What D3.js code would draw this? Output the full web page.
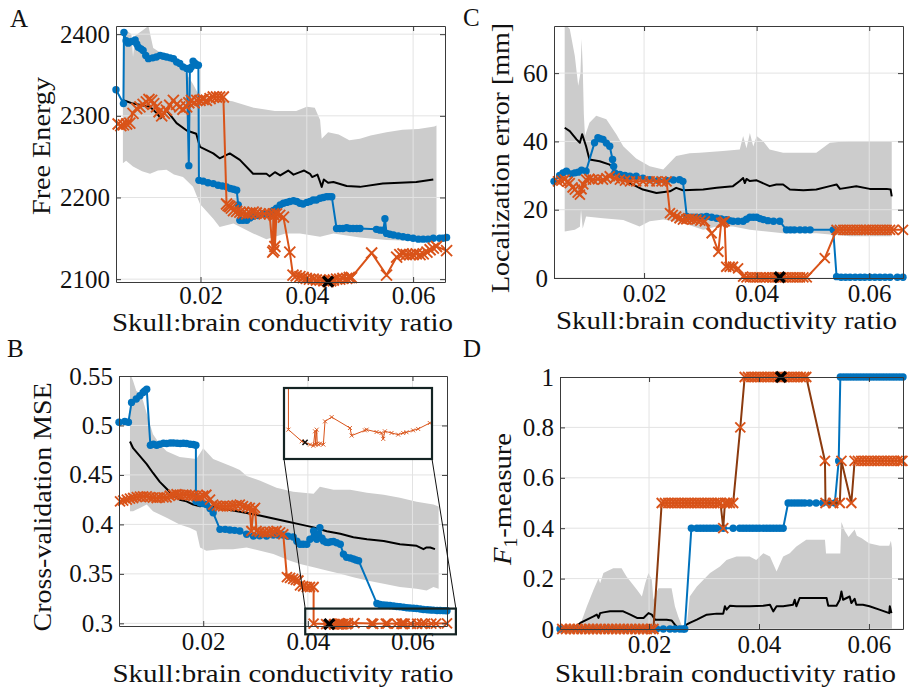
<!DOCTYPE html>
<html><head><meta charset="utf-8">
<script src="https://cdn.jsdelivr.net/npm/d3@7"></script>
<style>body{margin:0;background:#fff;} svg text{font-family:"Liberation Serif","Times New Roman",serif;}</style>
</head><body>
<svg id="c" width="909" height="688"></svg>
<script>
// ---------- shared ----------
const xTicks = [0.02, 0.04, 0.06];
const xTickLabels = ["0.02", "0.04", "0.06"];
const xLabel = "Skull:brain conductivity ratio";

// ---------- Panel A : Free Energy ----------
const aYTicks = [2100, 2200, 2300, 2400];
const aYTickLabels = ["2100", "2200", "2300", "2400"];
const aBandHi = [[0.0054,2402],[0.0062,2404],[0.0070,2400],[0.0073,2372],[0.0077,2398],[0.0092,2405],[0.0102,2410],[0.0107,2395],[0.0111,2383],[0.0130,2375],[0.0150,2366],[0.0170,2355],[0.0185,2340],[0.0199,2323],[0.0211,2322],[0.0224,2318],[0.0240,2320],[0.0260,2318],[0.0300,2310],[0.0340,2306],[0.0380,2306],[0.0400,2311],[0.0415,2310],[0.0425,2295],[0.0428,2272],[0.0440,2280],[0.0460,2277],[0.0480,2270],[0.0500,2272],[0.0520,2276],[0.0550,2280],[0.0580,2283],[0.0610,2284],[0.0640,2287],[0.0644,2288]];
const aBandLo = [[0.0054,2242],[0.0060,2245],[0.0073,2238],[0.0090,2232],[0.0105,2229],[0.0120,2233],[0.0136,2234],[0.0150,2228],[0.0167,2225],[0.0186,2213],[0.0199,2192],[0.0224,2174],[0.0236,2164],[0.0262,2168],[0.0299,2156],[0.0324,2149],[0.0360,2156],[0.0387,2156],[0.0425,2152],[0.0450,2156],[0.0500,2151],[0.0550,2148],[0.0600,2147],[0.0644,2148]];
const aMean = [[0.0055,2319],[0.0073,2315],[0.0090,2313],[0.0105,2311],[0.0118,2303],[0.0125,2297],[0.0136,2307],[0.0155,2291],[0.0174,2282],[0.0192,2278],[0.0199,2262],[0.0224,2254],[0.0236,2248],[0.0255,2254],[0.0274,2246],[0.0299,2229],[0.0324,2229],[0.0330,2226],[0.0340,2231],[0.0350,2227],[0.0365,2233],[0.0375,2228],[0.0387,2231],[0.0395,2233],[0.0406,2229],[0.0410,2225],[0.0420,2228],[0.0425,2219],[0.0428,2213],[0.0432,2222],[0.0440,2218],[0.0450,2219],[0.0475,2214],[0.0500,2213],[0.0543,2217],[0.0575,2218],[0.0606,2219],[0.0638,2222]];
const aBlue = [[0.0041,2332],[0.0055,2315],[0.0056,2402],[0.0060,2392],[0.0064,2389],[0.0070,2391],[0.0077,2393],[0.0080,2388],[0.0083,2384],[0.0088,2382],[0.0092,2380],[0.0097,2374],[0.0102,2370],[0.0110,2371],[0.0117,2372],[0.0124,2374],[0.0130,2373],[0.0136,2372],[0.0143,2371],[0.0149,2370],[0.0155,2366],[0.0161,2364],[0.0167,2360],[0.0174,2358],[0.0178,2239],[0.0180,2357],[0.0183,2360],[0.0186,2367],[0.0190,2364],[0.0193,2362],[0.0196,2362],[0.0197,2221],[0.0205,2220],[0.0214,2218],[0.0224,2217],[0.0233,2215],[0.0241,2214],[0.0249,2213],[0.0256,2211],[0.0262,2210],[0.0268,2209],[0.0271,2191],[0.0274,2172],[0.0280,2172],[0.0287,2172],[0.0293,2175],[0.0299,2177],[0.0308,2178],[0.0318,2180],[0.0330,2180],[0.0337,2184],[0.0343,2187],[0.0350,2191],[0.0356,2193],[0.0362,2194],[0.0368,2195],[0.0375,2196],[0.0381,2195],[0.0387,2193],[0.0393,2192],[0.0400,2194],[0.0406,2195],[0.0412,2197],[0.0418,2197],[0.0425,2199],[0.0431,2200],[0.0437,2201],[0.0442,2201],[0.0447,2201],[0.0456,2162],[0.0462,2162],[0.0468,2162],[0.0475,2163],[0.0481,2162],[0.0487,2162],[0.0494,2162],[0.0500,2162],[0.0531,2161],[0.0538,2160],[0.0544,2160],[0.0547,2174],[0.0550,2156],[0.0556,2155],[0.0563,2154],[0.0572,2153],[0.0581,2152],[0.0590,2151],[0.0600,2150],[0.0610,2149],[0.0619,2149],[0.0628,2149],[0.0638,2150],[0.0650,2150],[0.0656,2150],[0.0663,2151]];
const aRed = [[0.0045,2290],[0.0050,2288],[0.0055,2289],[0.0061,2290],[0.0067,2291],[0.0073,2303],[0.0080,2309],[0.0086,2311],[0.0092,2314],[0.0098,2317],[0.0103,2320],[0.0108,2319],[0.0112,2315],[0.0117,2311],[0.0122,2305],[0.0127,2300],[0.0132,2303],[0.0136,2307],[0.0142,2313],[0.0149,2319],[0.0155,2314],[0.0161,2311],[0.0167,2308],[0.0174,2311],[0.0178,2316],[0.0183,2319],[0.0188,2316],[0.0193,2319],[0.0199,2319],[0.0205,2320],[0.0211,2319],[0.0218,2321],[0.0224,2323],[0.0230,2323],[0.0236,2323],[0.0243,2323],[0.0249,2192],[0.0252,2190],[0.0255,2189],[0.0258,2187],[0.0262,2184],[0.0268,2183],[0.0274,2182],[0.0280,2181],[0.0287,2180],[0.0293,2181],[0.0299,2182],[0.0305,2181],[0.0312,2180],[0.0320,2180],[0.0330,2180],[0.0336,2133],[0.0337,2180],[0.0338,2135],[0.0339,2178],[0.0340,2140],[0.0343,2180],[0.0349,2178],[0.0356,2176],[0.0368,2133],[0.0374,2105],[0.0380,2104],[0.0387,2103],[0.0393,2102],[0.0399,2101],[0.0405,2100],[0.0412,2100],[0.0418,2099],[0.0425,2099],[0.0432,2098],[0.0440,2097],[0.0445,2098],[0.0450,2099],[0.0456,2100],[0.0462,2100],[0.0468,2101],[0.0475,2101],[0.0480,2102],[0.0484,2102],[0.0522,2132],[0.0550,2105],[0.0569,2127],[0.0575,2130],[0.0581,2131],[0.0587,2130],[0.0594,2130],[0.0600,2130],[0.0606,2131],[0.0613,2130],[0.0619,2131],[0.0626,2133],[0.0632,2136],[0.0638,2138],[0.0644,2140],[0.0663,2135]];
const aBest = [0.0440, 2097];

// ---------- Panel C : Localization error ----------
const cYTicks = [0, 20, 40, 60];
const cYTickLabels = ["0", "20", "40", "60"];
const cBandHi = [[0.0059,74.5],[0.0068,72.9],[0.0077,65.0],[0.0083,56.3],[0.0087,60.0],[0.0089,70.0],[0.0091,62.0],[0.0093,48.0],[0.0095,41.6],[0.0103,45.5],[0.0115,47.5],[0.0133,46.5],[0.0151,42.0],[0.0163,38.6],[0.0186,35.0],[0.0210,32.7],[0.0234,31.8],[0.0257,35.7],[0.0281,36.5],[0.0299,36.7],[0.0340,37.2],[0.0370,37.6],[0.0376,41.6],[0.0382,38.0],[0.0388,42.5],[0.0394,38.5],[0.0400,41.6],[0.0412,40.0],[0.0423,37.6],[0.0447,36.7],[0.0506,36.7],[0.0530,39.6],[0.0566,40.1],[0.0640,40.1]];
const cBandLo = [[0.0059,13.6],[0.0077,14.1],[0.0086,15.0],[0.0088,20.0],[0.0091,14.5],[0.0097,18.0],[0.0127,17.5],[0.0163,17.0],[0.0192,15.1],[0.0210,16.6],[0.0234,17.1],[0.0269,16.1],[0.0305,14.1],[0.0329,15.1],[0.0358,15.1],[0.0388,14.1],[0.0447,13.1],[0.0506,13.1],[0.0566,12.2],[0.0640,12.2]];
const cMean = [[0.0059,44.0],[0.0068,43.0],[0.0080,40.6],[0.0086,39.6],[0.0090,42.1],[0.0097,38.6],[0.0103,34.7],[0.0121,34.2],[0.0139,33.2],[0.0151,30.8],[0.0175,27.8],[0.0198,25.9],[0.0222,24.9],[0.0246,25.4],[0.0257,26.4],[0.0269,25.7],[0.0305,25.9],[0.0329,26.4],[0.0358,26.9],[0.0370,28.4],[0.0376,29.3],[0.0379,27.8],[0.0382,29.0],[0.0388,28.4],[0.0400,28.6],[0.0423,26.9],[0.0435,27.4],[0.0447,27.4],[0.0459,25.9],[0.0483,25.7],[0.0506,25.9],[0.0530,26.9],[0.0542,27.4],[0.0548,26.1],[0.0577,26.9],[0.0601,26.1],[0.0631,26.1],[0.0638,25.9],[0.0640,23.9]];
const cBlue = [[0.0040,28.3],[0.0050,30.0],[0.0056,30.8],[0.0062,31.3],[0.0070,30.5],[0.0077,30.8],[0.0083,31.0],[0.0089,31.6],[0.0097,31.3],[0.0112,39.6],[0.0118,41.1],[0.0122,40.8],[0.0127,40.6],[0.0133,39.5],[0.0139,38.6],[0.0144,34.7],[0.0146,32.7],[0.0148,30.8],[0.0157,30.3],[0.0166,30.0],[0.0175,29.8],[0.0186,29.8],[0.0198,29.2],[0.0210,28.8],[0.0225,28.6],[0.0240,28.6],[0.0252,28.7],[0.0263,28.8],[0.0269,28.3],[0.0276,18.0],[0.0285,17.8],[0.0293,17.8],[0.0302,17.9],[0.0311,18.0],[0.0320,17.8],[0.0329,17.5],[0.0337,17.3],[0.0346,17.1],[0.0352,16.8],[0.0358,16.6],[0.0367,16.6],[0.0376,16.6],[0.0382,17.2],[0.0388,17.8],[0.0394,17.8],[0.0400,17.8],[0.0406,17.4],[0.0412,17.1],[0.0420,16.8],[0.0430,16.6],[0.0441,16.6],[0.0453,14.1],[0.0460,14.1],[0.0467,14.1],[0.0477,14.1],[0.0486,14.1],[0.0495,14.1],[0.0536,14.1],[0.0542,0.4],[0.0550,0.2],[0.0558,0.2],[0.0566,0.2],[0.0575,0.2],[0.0584,0.2],[0.0592,0.2],[0.0601,0.2],[0.0610,0.2],[0.0619,0.2],[0.0628,0.2],[0.0637,0.2],[0.0650,0.2],[0.0660,0.2]];
const cRed = [[0.0047,28.3],[0.0053,28.5],[0.0059,28.8],[0.0064,28.2],[0.0068,27.8],[0.0073,26.5],[0.0077,25.9],[0.0082,25.0],[0.0086,24.4],[0.0089,26.0],[0.0092,27.4],[0.0097,28.8],[0.0103,29.0],[0.0109,28.8],[0.0118,29.0],[0.0127,28.8],[0.0133,29.2],[0.0139,29.8],[0.0148,29.2],[0.0157,28.8],[0.0166,28.5],[0.0175,28.3],[0.0186,28.3],[0.0198,28.3],[0.0210,28.3],[0.0222,28.3],[0.0231,28.3],[0.0240,28.3],[0.0246,19.0],[0.0251,18.5],[0.0257,18.0],[0.0263,17.5],[0.0269,17.1],[0.0275,17.2],[0.0281,17.3],[0.0287,17.2],[0.0293,17.1],[0.0300,16.8],[0.0308,16.6],[0.0320,13.1],[0.0332,7.7],[0.0337,16.1],[0.0340,16.3],[0.0343,16.6],[0.0346,3.3],[0.0352,3.3],[0.0358,3.3],[0.0367,2.8],[0.0376,0.4],[0.0382,0.2],[0.0388,0.2],[0.0394,0.2],[0.0400,0.2],[0.0406,0.2],[0.0412,0.2],[0.0417,0.2],[0.0423,0.2],[0.0429,0.2],[0.0435,0.2],[0.0441,0.2],[0.0447,0.2],[0.0453,0.2],[0.0459,0.2],[0.0465,0.2],[0.0471,0.2],[0.0477,0.2],[0.0483,0.2],[0.0489,0.2],[0.0521,5.8],[0.0542,14.1],[0.0548,14.1],[0.0554,14.1],[0.0560,14.1],[0.0566,14.1],[0.0572,14.1],[0.0578,14.1],[0.0584,14.1],[0.0590,14.1],[0.0595,14.1],[0.0601,14.1],[0.0607,14.1],[0.0613,14.1],[0.0619,14.1],[0.0625,14.1],[0.0631,14.1],[0.0637,14.1],[0.0643,14.1],[0.0660,14.1]];
const cBest = [0.0441, 0.2];

// ---------- Panel B : Cross-validation MSE ----------
const bYTicks = [0.3, 0.35, 0.4, 0.45, 0.5, 0.55];
const bYTickLabels = ["0.3", "0.35", "0.4", "0.45", "0.5", "0.55"];
const bBandHi = [[0.0060,0.553],[0.0066,0.545],[0.0072,0.535],[0.0079,0.532],[0.0085,0.525],[0.0092,0.512],[0.0104,0.491],[0.0117,0.481],[0.0130,0.474],[0.0155,0.468],[0.0187,0.466],[0.0200,0.477],[0.0219,0.466],[0.0238,0.462],[0.0257,0.458],[0.0270,0.455],[0.0283,0.449],[0.0309,0.444],[0.0340,0.437],[0.0372,0.433],[0.0411,0.431],[0.0423,0.438],[0.0449,0.435],[0.0481,0.435],[0.0513,0.432],[0.0545,0.430],[0.0576,0.427],[0.0608,0.423],[0.0640,0.420],[0.0650,0.418]];
const bBandLo = [[0.0060,0.4133],[0.0066,0.4133],[0.0079,0.4167],[0.0092,0.4200],[0.0104,0.4133],[0.0130,0.4067],[0.0155,0.4000],[0.0174,0.3967],[0.0187,0.3933],[0.0194,0.3767],[0.0206,0.3733],[0.0232,0.3750],[0.0257,0.3750],[0.0283,0.3767],[0.0309,0.3733],[0.0334,0.3700],[0.0366,0.3633],[0.0385,0.3600],[0.0411,0.3567],[0.0436,0.3533],[0.0462,0.3500],[0.0487,0.3467],[0.0513,0.3433],[0.0545,0.3400],[0.0576,0.3367],[0.0608,0.3350],[0.0627,0.3333],[0.0640,0.3367],[0.0650,0.3350]];
const bMean = [[0.0060,0.4838],[0.0066,0.4770],[0.0079,0.4690],[0.0092,0.4610],[0.0104,0.4520],[0.0117,0.4430],[0.0130,0.4360],[0.0143,0.4290],[0.0155,0.4250],[0.0168,0.4233],[0.0181,0.4200],[0.0194,0.4183],[0.0206,0.4200],[0.0232,0.4160],[0.0257,0.4140],[0.0283,0.4115],[0.0308,0.4090],[0.0334,0.4060],[0.0360,0.4030],[0.0385,0.4000],[0.0411,0.3970],[0.0436,0.3930],[0.0462,0.3905],[0.0487,0.3870],[0.0513,0.3850],[0.0545,0.3833],[0.0576,0.3800],[0.0608,0.3783],[0.0621,0.3750],[0.0627,0.3767],[0.0634,0.3767],[0.0643,0.3750]];
const bBlue = [[0.0039,0.5033],[0.0050,0.5040],[0.0057,0.5033],[0.0063,0.5233],[0.0072,0.5267],[0.0079,0.5300],[0.0085,0.5333],[0.0088,0.5350],[0.0092,0.5367],[0.0099,0.4800],[0.0105,0.4810],[0.0111,0.4800],[0.0117,0.4810],[0.0124,0.4820],[0.0130,0.4817],[0.0137,0.4823],[0.0143,0.4823],[0.0150,0.4820],[0.0156,0.4817],[0.0162,0.4820],[0.0168,0.4817],[0.0175,0.4810],[0.0181,0.4807],[0.0186,0.4800],[0.0186,0.4233],[0.0194,0.4217],[0.0200,0.4210],[0.0206,0.4200],[0.0213,0.4160],[0.0219,0.4117],[0.0232,0.3950],[0.0242,0.3950],[0.0251,0.3943],[0.0260,0.3940],[0.0270,0.3933],[0.0283,0.3900],[0.0296,0.3883],[0.0308,0.3885],[0.0321,0.3883],[0.0334,0.3893],[0.0343,0.3893],[0.0353,0.3893],[0.0362,0.3880],[0.0372,0.3873],[0.0379,0.3830],[0.0385,0.3800],[0.0391,0.3800],[0.0398,0.3800],[0.0404,0.3850],[0.0411,0.3933],[0.0414,0.3870],[0.0417,0.3850],[0.0420,0.3900],[0.0423,0.3967],[0.0427,0.3860],[0.0430,0.3833],[0.0435,0.3820],[0.0439,0.3817],[0.0444,0.3825],[0.0449,0.3827],[0.0455,0.3815],[0.0462,0.3800],[0.0468,0.3700],[0.0474,0.3667],[0.0481,0.3660],[0.0487,0.3650],[0.0492,0.3640],[0.0497,0.3633],[0.0532,0.3200],[0.0538,0.3190],[0.0545,0.3185],[0.0551,0.3183],[0.0557,0.3180],[0.0564,0.3175],[0.0570,0.3170],[0.0576,0.3167],[0.0583,0.3162],[0.0589,0.3158],[0.0595,0.3155],[0.0602,0.3152],[0.0608,0.3150],[0.0615,0.3145],[0.0621,0.3140],[0.0628,0.3138],[0.0634,0.3135],[0.0640,0.3133],[0.0647,0.3130],[0.0653,0.3130],[0.0660,0.3128],[0.0666,0.3127]];
const bRed = [[0.0041,0.4233],[0.0047,0.4240],[0.0054,0.4250],[0.0060,0.4260],[0.0066,0.4267],[0.0073,0.4275],[0.0079,0.4280],[0.0085,0.4283],[0.0092,0.4283],[0.0098,0.4275],[0.0104,0.4270],[0.0111,0.4267],[0.0117,0.4270],[0.0124,0.4273],[0.0130,0.4273],[0.0136,0.4290],[0.0143,0.4300],[0.0149,0.4305],[0.0155,0.4300],[0.0162,0.4300],[0.0168,0.4300],[0.0175,0.4295],[0.0181,0.4290],[0.0187,0.4285],[0.0194,0.4283],[0.0200,0.4290],[0.0206,0.4300],[0.0213,0.4250],[0.0219,0.4200],[0.0226,0.4190],[0.0232,0.4185],[0.0238,0.4183],[0.0245,0.4183],[0.0251,0.4185],[0.0257,0.4190],[0.0264,0.4195],[0.0270,0.4200],[0.0276,0.4185],[0.0283,0.4175],[0.0289,0.4167],[0.0292,0.3933],[0.0296,0.4150],[0.0299,0.4167],[0.0302,0.3933],[0.0308,0.3925],[0.0315,0.3920],[0.0321,0.3917],[0.0327,0.3925],[0.0334,0.3930],[0.0340,0.3933],[0.0347,0.3920],[0.0353,0.3900],[0.0360,0.3467],[0.0366,0.3460],[0.0372,0.3450],[0.0377,0.3440],[0.0382,0.3433],[0.0385,0.3383],[0.0391,0.3375],[0.0398,0.3367],[0.0404,0.3367],[0.0411,0.3367],
  [0.0411,0.29974],[0.0435,0.29925],[0.0441,0.29920],[0.0450,0.29911],[0.0456,0.29906],[0.0459,0.29967],[0.0460,0.29911],[0.0462,0.29974],[0.0463,0.29915],[0.0465,0.29911],[0.0468,0.29915],[0.0474,0.29911],[0.0477,0.30009],[0.0489,0.30027],[0.0522,0.29981],[0.0525,0.29949],[0.0549,0.29971],[0.0552,0.29974],[0.0570,0.29964],[0.0579,0.29960],[0.0582,0.29935],[0.0585,0.29967],[0.0597,0.29960],[0.0609,0.29953],[0.0618,0.29960],[0.0624,0.29963],[0.0636,0.29971],[0.0645,0.29977],[0.0666,0.30002]];
const bBest = [0.0441, 0.29920];
const bInsetXDomain = [0.0403, 0.0670];
const bInsetYDomain = [0.2985, 0.3015];
const bZoomBoxX = [0.0395, 0.0683];
const bZoomBoxY = [0.2889, 0.3149];

// ---------- Panel D : F1-measure ----------
const dYTicks = [0, 0.2, 0.4, 0.6, 0.8, 1];
const dYTickLabels = ["0", "0.2", "0.4", "0.6", "0.8", "1"];
const dBandHi = [[0.0072,0],[0.0087,0.09],[0.0099,0.156],[0.0108,0.2],[0.0111,0.182],[0.0117,0.222],[0.0129,0.235],[0.0135,0.241],[0.0150,0.241],[0.0159,0.208],[0.0178,0.156],[0.0187,0.129],[0.0193,0.182],[0.0199,0.222],[0.0205,0.195],[0.0208,0.116],[0.0217,0.162],[0.0241,0.162],[0.0247,0.09],[0.0253,0.05],[0.0262,0],[0.0268,0],[0.0274,0.129],[0.0287,0.169],[0.0299,0.195],[0.0311,0.222],[0.0329,0.248],[0.0341,0.274],[0.0359,0.288],[0.0383,0.288],[0.0395,0.274],[0.0408,0.301],[0.0420,0.288],[0.0432,0.228],[0.0444,0.288],[0.0456,0.301],[0.0468,0.327],[0.0486,0.354],[0.0498,0.354],[0.0520,0.354],[0.0522,0.30],[0.0548,0.30],[0.0550,0.425],[0.0556,0.39],[0.0563,0.365],[0.0574,0.395],[0.0578,0.37],[0.0587,0.36],[0.0600,0.34],[0.0620,0.33],[0.0637,0.33],[0.0640,0.35],[0.0642,0.32],[0.0642,0]];
const dBandLo = [[0.0072,0],[0.0642,0]];
const dMean = [[0.0042,0.004],[0.0063,0.004],[0.0075,0.024],[0.0087,0.037],[0.0099,0.050],[0.0105,0.057],[0.0108,0.044],[0.0111,0.063],[0.0117,0.066],[0.0129,0.070],[0.0153,0.070],[0.0166,0.057],[0.0178,0.044],[0.0190,0.044],[0.0199,0.063],[0.0205,0.057],[0.0211,0.037],[0.0232,0.037],[0.0241,0.034],[0.0247,0.017],[0.0253,0.004],[0.0262,0.004],[0.0268,0.017],[0.0274,0.024],[0.0287,0.037],[0.0305,0.057],[0.0323,0.061],[0.0335,0.061],[0.0338,0.090],[0.0341,0.077],[0.0347,0.092],[0.0359,0.090],[0.0383,0.090],[0.0408,0.092],[0.0420,0.096],[0.0426,0.070],[0.0432,0.090],[0.0444,0.090],[0.0462,0.096],[0.0465,0.116],[0.0468,0.090],[0.0474,0.123],[0.0504,0.123],[0.0523,0.123],[0.0526,0.092],[0.0541,0.092],[0.0547,0.116],[0.0550,0.149],[0.0553,0.116],[0.0565,0.129],[0.0568,0.103],[0.0574,0.120],[0.0577,0.096],[0.0589,0.096],[0.0601,0.090],[0.0619,0.077],[0.0637,0.063],[0.0638,0.090],[0.0641,0.063]];
const dBlue = [[0.0038,0],[0.0050,0],[0.0062,0],[0.0074,0],[0.0086,0],[0.0098,0],[0.0110,0],[0.0122,0],[0.0134,0],[0.0146,0],[0.0158,0],[0.0170,0],[0.0182,0],[0.0194,0],[0.0205,0],[0.0214,0],[0.0226,0],[0.0238,0],[0.0247,0],[0.0256,0],[0.0262,0],[0.0265,0],[0.0277,0.4],[0.0287,0.4],[0.0293,0.4],[0.0299,0.4],[0.0305,0.4],[0.0311,0.4],[0.0317,0.4],[0.0323,0.4],[0.0335,0.4],[0.0353,0.4],[0.0365,0.4],[0.0371,0.4],[0.0377,0.4],[0.0383,0.4],[0.0389,0.4],[0.0395,0.4],[0.0401,0.4],[0.0408,0.4],[0.0414,0.4],[0.0420,0.4],[0.0426,0.4],[0.0432,0.4],[0.0438,0.4],[0.0444,0.4],[0.0453,0.5],[0.0459,0.5],[0.0465,0.5],[0.0471,0.5],[0.0477,0.5],[0.0483,0.5],[0.0492,0.5],[0.0504,0.5],[0.0516,0.5],[0.0528,0.5],[0.0538,0.5],[0.0545,0.667],[0.0548,1],[0.0554,1],[0.0560,1],[0.0566,1],[0.0572,1],[0.0578,1],[0.0584,1],[0.0590,1],[0.0596,1],[0.0602,1],[0.0608,1],[0.0614,1],[0.0620,1],[0.0626,1],[0.0632,1],[0.0638,1],[0.0644,1],[0.0650,1],[0.0656,1],[0.0662,1]];
const dRed = [[0.0042,0],[0.0049,0],[0.0056,0],[0.0063,0],[0.0070,0],[0.0077,0],[0.0084,0],[0.0091,0],[0.0098,0],[0.0105,0],[0.0112,0],[0.0119,0],[0.0126,0],[0.0133,0],[0.0140,0],[0.0147,0],[0.0154,0],[0.0161,0],[0.0168,0],[0.0175,0],[0.0182,0],[0.0189,0],[0.0196,0],[0.0203,0],[0.0208,0],[0.0223,0.5],[0.0229,0.5],[0.0235,0.5],[0.0241,0.5],[0.0247,0.5],[0.0253,0.5],[0.0259,0.5],[0.0265,0.5],[0.0271,0.5],[0.0277,0.5],[0.0283,0.5],[0.0289,0.5],[0.0295,0.5],[0.0301,0.5],[0.0307,0.5],[0.0313,0.5],[0.0319,0.5],[0.0325,0.5],[0.0330,0.5],[0.0335,0.4],[0.0338,0.5],[0.0342,0.5],[0.0347,0.5],[0.0353,0.5],[0.0366,0.8],[0.0374,1],[0.0380,1],[0.0386,1],[0.0392,1],[0.0398,1],[0.0404,1],[0.0410,1],[0.0416,1],[0.0422,1],[0.0428,1],[0.0434,1],[0.0440,1],[0.0446,1],[0.0452,1],[0.0458,1],[0.0464,1],[0.0470,1],[0.0476,1],[0.0482,1],[0.0486,1],[0.0520,0.667],[0.0521,0.5],[0.0535,0.5],[0.0547,0.5],[0.0550,0.667],[0.0568,0.5],[0.0574,0.667],[0.0580,0.667],[0.0586,0.667],[0.0592,0.667],[0.0598,0.667],[0.0604,0.667],[0.0610,0.667],[0.0616,0.667],[0.0622,0.667],[0.0628,0.667],[0.0634,0.667],[0.0640,0.667],[0.0646,0.667],[0.0652,0.667],[0.0658,0.667],[0.0661,0.667]];
const dBest = [0.0440, 1];

// ---------- drawing ----------
const BLUE = "#0072BD", RED = "#D95319", BAND = "#cccccc", GRID = "#e3e3e3", AXIS = "#3a3a3a";
const FS = 26, TFS = 25;
const svg = d3.select("#c");
const defs = svg.append("defs");
const cross = s => `M${-s},${-s}L${s},${s}M${-s},${s}L${s},${-s}`;

function drawPanel(p) {
  const x = d3.scaleLinear().domain(p.xd).range([p.l, p.r]);
  const y = d3.scaleLinear().domain(p.yd).range([p.b, p.t]);
  const g = svg.append("g");
  const cid = "clip" + p.key;
  defs.append("clipPath").attr("id", cid).append("rect")
    .attr("x", p.l).attr("y", p.t).attr("width", p.r - p.l).attr("height", p.b - p.t);
  const clipped = () => g.append("g").attr("clip-path", `url(#${cid})`);
  const line = d3.line().x(d => x(d[0])).y(d => y(d[1]));

  const bandPts = p.bandHi.map(d => [x(d[0]), y(d[1])])
    .concat(p.bandLo.slice().reverse().map(d => [x(d[0]), y(d[1])]));
  const gb = clipped();
  gb.append("path").attr("d", d3.line()(bandPts) + "Z").attr("fill", BAND);
  gb.selectAll(null).data(xTicks).join("line")
    .attr("x1", d => x(d)).attr("x2", d => x(d)).attr("y1", p.t).attr("y2", p.b)
    .attr("stroke", GRID).attr("stroke-width", 1);
  gb.selectAll(null).data(p.yTicks).join("line")
    .attr("y1", d => y(d)).attr("y2", d => y(d)).attr("x1", p.l).attr("x2", p.r)
    .attr("stroke", GRID).attr("stroke-width", 1);
  clipped().append("path").attr("d", line(p.mean)).attr("fill", "none")
    .attr("stroke", "#000").attr("stroke-width", 2).attr("stroke-linejoin", "round");
  clipped().append("path").attr("d", line(p.blue)).attr("fill", "none")
    .attr("stroke", BLUE).attr("stroke-width", 2);
  g.append("g").selectAll(null).data(p.blue).join("circle")
    .attr("cx", d => x(d[0])).attr("cy", d => y(d[1])).attr("r", 3.7).attr("fill", BLUE);
  clipped().append("path").attr("d", line(p.red)).attr("fill", "none")
    .attr("stroke", p.redLine).attr("stroke-width", 2);
  g.append("g").selectAll(null).data(p.red).join("path")
    .attr("transform", d => `translate(${x(d[0])},${y(d[1])})`)
    .attr("d", cross(p.xs)).attr("stroke", RED).attr("stroke-width", 1.9).attr("fill", "none");
  g.append("path").attr("transform", `translate(${x(p.best[0])},${y(p.best[1])})`)
    .attr("d", cross(5)).attr("stroke", "#000").attr("stroke-width", 3.4).attr("fill", "none");

  const styleAxis = a => {
    a.attr("font-family", null).attr("font-size", TFS);
    a.select(".domain").attr("stroke", AXIS).attr("stroke-width", 1);
    a.selectAll(".tick line").attr("stroke", AXIS);
    a.selectAll(".tick text").attr("fill", "#111");
  };
  g.append("g").attr("transform", `translate(0,${p.b})`)
    .call(d3.axisBottom(x).tickValues(xTicks).tickFormat((d, i) => xTickLabels[i]).tickSize(-5).tickSizeOuter(0).tickPadding(p.xtp))
    .call(styleAxis);
  g.append("g").attr("transform", `translate(0,${p.t})`)
    .call(d3.axisTop(x).tickValues(xTicks).tickFormat("").tickSize(-5).tickSizeOuter(0))
    .call(styleAxis);
  g.append("g").attr("transform", `translate(${p.l},0)`)
    .call(d3.axisLeft(y).tickValues(p.yTicks).tickFormat((d, i) => p.yTickLabels[i]).tickSize(-5).tickSizeOuter(0).tickPadding(6))
    .call(styleAxis);
  g.append("g").attr("transform", `translate(${p.r},0)`)
    .call(d3.axisRight(y).tickValues(p.yTicks).tickFormat("").tickSize(-5).tickSizeOuter(0))
    .call(styleAxis);

  const yl = g.append("text").attr("transform", `translate(${p.ylx},${p.yly}) rotate(-90)`)
    .attr("text-anchor", "middle").attr("font-size", FS).attr("fill", "#111")
    .attr("textLength", p.ylLen).attr("lengthAdjust", "spacingAndGlyphs");
  p.ylabel(yl);
  g.append("text").attr("x", (p.l + p.r) / 2 + p.xlOff).attr("y", p.xly).attr("text-anchor", "middle")
    .attr("font-size", FS).attr("fill", "#111").attr("textLength", 341).attr("lengthAdjust", "spacingAndGlyphs").text(xLabel);
  g.append("text").attr("x", p.lx).attr("y", p.ly).attr("font-size", 25).attr("fill", "#111").text(p.letter);
  return { x, y, g };
}

drawPanel({ key: "A", l: 116, r: 445, t: 26, b: 282, xd: [0.0041, 0.0660], yd: [2096.5, 2410],
  yTicks: aYTicks, yTickLabels: aYTickLabels, bandHi: aBandHi, bandLo: aBandLo, mean: aMean,
  blue: aBlue, red: aRed, best: aBest, redLine: RED, xs: 5.5, xtp: 4,
  ylx: 49.5, yly: 146, ylLen: 138, ylabel: t => t.text("Free Energy"), xlOff: 2, xly: 331, lx: 10, ly: 27, letter: "A" });

drawPanel({ key: "C", l: 554, r: 903, t: 26, b: 278, xd: [0.0040, 0.0660], yd: [0, 73.8],
  yTicks: cYTicks, yTickLabels: cYTickLabels, bandHi: cBandHi, bandLo: cBandLo, mean: cMean,
  blue: cBlue, red: cRed, best: cBest, redLine: RED, xs: 5, xtp: 6,
  ylx: 509, yly: 158, ylLen: 270, ylabel: t => t.text("Localization error [mm]"), xlOff: -2, xly: 329, lx: 463, ly: 26, letter: "C" });

const B = drawPanel({ key: "B", l: 119, r: 447, t: 376, b: 626, xd: [0.0039, 0.0666], yd: [0.2973, 0.55],
  yTicks: bYTicks, yTickLabels: bYTickLabels, bandHi: bBandHi, bandLo: bBandLo, mean: bMean,
  blue: bBlue, red: bRed, best: bBest, redLine: RED, xs: 5, xtp: 6,
  ylx: 51, yly: 507, ylLen: 249, ylabel: t => t.text("Cross-validation MSE"), xlOff: 0, xly: 682, lx: 7, ly: 357, letter: "B" });

drawPanel({ key: "D", l: 560, r: 903, t: 377, b: 629, xd: [0.0038, 0.0662], yd: [0, 1],
  yTicks: dYTicks, yTickLabels: dYTickLabels, bandHi: dBandHi, bandLo: dBandLo, mean: dMean,
  blue: dBlue, red: dRed, best: dBest, redLine: "#8b3a0e", xs: 5, xtp: 6,
  ylx: 511, yly: 499, ylLen: 132,
  ylabel: t => { t.append("tspan").attr("font-style", "italic").text("F");
                 t.append("tspan").attr("font-size", 18).attr("dy", 6).text("1");
                 t.append("tspan").attr("dy", -6).text("-measure"); },
  xlOff: -6, xly: 682, lx: 463, ly: 357, letter: "D" });

// ---------- Panel B inset (zoom of the red series near 0.3) ----------
const inset = { l: 284, r: 432, t: 388, b: 459 };
const ix = d3.scaleLinear().domain(bInsetXDomain).range([inset.l, inset.r]);
const iy = d3.scaleLinear().domain(bInsetYDomain).range([inset.b, inset.t]);
const zb = { x0: B.x(bZoomBoxX[0]), x1: B.x(bZoomBoxX[1]), y0: B.y(bZoomBoxY[1]), y1: B.y(bZoomBoxY[0]) };
const gi = svg.append("g");
gi.append("line").attr("x1", inset.l).attr("y1", inset.b).attr("x2", zb.x0).attr("y2", zb.y0).attr("stroke", "#111").attr("stroke-width", 1);
gi.append("line").attr("x1", inset.r).attr("y1", inset.b).attr("x2", zb.x1).attr("y2", zb.y0).attr("stroke", "#111").attr("stroke-width", 1);
gi.append("rect").attr("x", zb.x0).attr("y", zb.y0).attr("width", zb.x1 - zb.x0).attr("height", zb.y1 - zb.y0)
  .attr("fill", "none").attr("stroke", "#142424").attr("stroke-width", 2.2);
gi.append("rect").attr("x", inset.l).attr("y", inset.t).attr("width", inset.r - inset.l).attr("height", inset.b - inset.t).attr("fill", "#fff");
defs.append("clipPath").attr("id", "clipInset").append("rect")
  .attr("x", inset.l).attr("y", inset.t).attr("width", inset.r - inset.l).attr("height", inset.b - inset.t);
const gic = gi.append("g").attr("clip-path", "url(#clipInset)");
gic.append("path").attr("d", d3.line().x(d => ix(d[0])).y(d => iy(d[1]))(bRed))
  .attr("fill", "none").attr("stroke", RED).attr("stroke-width", 1);
gic.selectAll(null).data(bRed.filter(d => d[0] >= bInsetXDomain[0] && d[1] < bInsetYDomain[1])).join("path")
  .attr("transform", d => `translate(${ix(d[0])},${iy(d[1])})`)
  .attr("d", cross(2)).attr("stroke", RED).attr("stroke-width", 0.9).attr("fill", "none");
gic.append("path").attr("transform", `translate(${ix(bBest[0])},${iy(bBest[1])})`)
  .attr("d", cross(2.6)).attr("stroke", "#111").attr("stroke-width", 1.5).attr("fill", "none");
gi.append("rect").attr("x", inset.l).attr("y", inset.t).attr("width", inset.r - inset.l).attr("height", inset.b - inset.t)
  .attr("fill", "none").attr("stroke", "#142424").attr("stroke-width", 2.2);
</script>
</body></html>
